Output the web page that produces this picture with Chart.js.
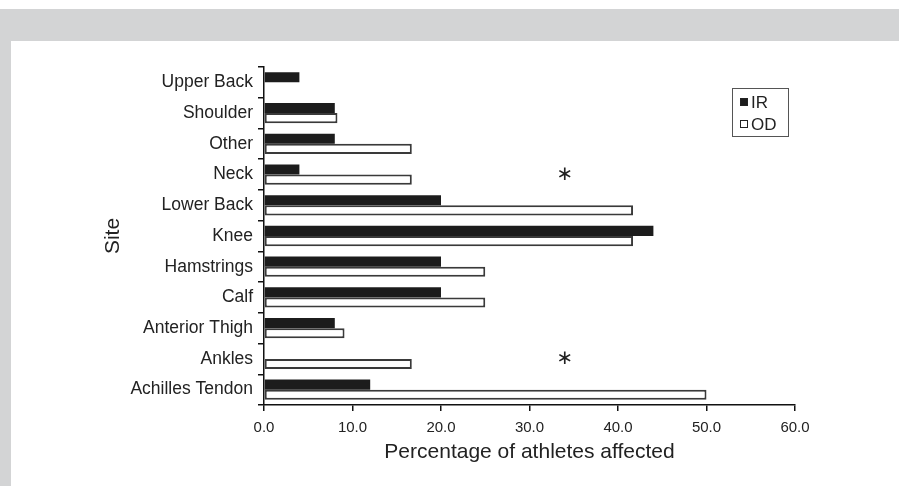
<!DOCTYPE html>
<html>
<head>
<meta charset="utf-8">
<script src="https://cdn.jsdelivr.net/npm/chart.js@4"></script>
<style>
  body { margin: 0; background: #fff; }
  #frame { position: absolute; left: 0; top: 9px; width: 899px; height: 477px; background: #d3d4d5; }
  #panel { position: absolute; left: 11px; top: 32px; width: 888px; height: 445px; background: #fff; }
</style>
</head>
<body>
<div id="frame">
  <div id="panel"><canvas id="injuryChart" width="888" height="445"></canvas></div>
</div>
<script>
const sites = ["Upper Back", "Shoulder", "Other", "Neck", "Lower Back", "Knee",
  "Hamstrings", "Calf", "Anterior Thigh", "Ankles", "Achilles Tendon"];
const irValues = [4.0, 8.0, 8.0, 4.0, 20.0, 44.0, 20.0, 20.0, 8.0, 0, 12.0];
const odValues = [0, 8.3, 16.7, 16.7, 41.7, 41.7, 25.0, 25.0, 9.1, 16.7, 50.0];
const seriesNames = ["IR", "OD"];
const starSites = ["Neck", "Ankles"];
const starValue = 34;

const fontFamily = "'Liberation Sans', Arial, sans-serif";

// legend box drawn inside the plot, like the original figure
const boxLegend = {
  id: "boxLegend",
  afterDraw(chart) {
    const ctx = chart.ctx;
    const x = 721, y = 47, w = 56, h = 48;
    ctx.save();
    ctx.strokeStyle = "#555";
    ctx.lineWidth = 1;
    ctx.strokeRect(x + 0.5, y + 0.5, w, h);
    ctx.font = "17px " + fontFamily;
    ctx.textBaseline = "middle";
    chart.data.datasets.forEach((ds, i) => {
      const cy = y + 14 + i * 22;
      ctx.fillStyle = ds.backgroundColor;
      ctx.fillRect(x + 8, cy - 4, 8, 8);
      ctx.strokeStyle = "#222";
      ctx.strokeRect(x + 8.5, cy - 3.5, 7, 7);
      ctx.fillStyle = "#222";
      ctx.fillText(ds.label, x + 19, cy + 1);
    });
    ctx.restore();
  }
};

// significance markers
const stars = {
  id: "stars",
  afterDatasetsDraw(chart) {
    const ctx = chart.ctx;
    const xs = chart.scales.x, ys = chart.scales.y;
    ctx.save();
    ctx.font = "20px 'DejaVu Sans', sans-serif";
    ctx.fillStyle = "#222";
    ctx.textAlign = "center";
    ctx.textBaseline = "middle";
    starSites.forEach(s => {
      ctx.fillText("\u2217", xs.getPixelForValue(starValue), ys.getPixelForValue(sites.indexOf(s)));
    });
    ctx.restore();
  }
};

new Chart(document.getElementById("injuryChart"), {
  type: "bar",
  data: {
    labels: sites,
    datasets: [
      {
        label: seriesNames[0],
        data: irValues,
        backgroundColor: "#1c1c1c",
        borderColor: "#1c1c1c",
        borderWidth: 0
      },
      {
        label: seriesNames[1],
        data: odValues,
        backgroundColor: "#ffffff",
        borderColor: "#3a3a3a",
        borderWidth: 2,
        borderSkipped: false
      }
    ]
  },
  options: {
    indexAxis: "y",
    responsive: false,
    animation: false,
    categoryPercentage: 0.66,
    barPercentage: 1.0,
    layout: { padding: { left: 86, top: 26, right: 104, bottom: 15 } },
    plugins: {
      legend: { display: false },
      tooltip: { enabled: false }
    },
    scales: {
      x: {
        min: 0,
        max: 60,
        afterFit(scale) { scale.height = 66; },
        border: { color: "#111", width: 1.5 },
        grid: { drawOnChartArea: false, drawTicks: true, tickLength: 6, color: "#111", lineWidth: 1.5 },
        ticks: {
          stepSize: 10,
          padding: 8,
          color: "#222",
          font: { family: fontFamily, size: 15 },
          callback: v => v.toFixed(1)
        },
        title: {
          display: true,
          text: "Percentage of athletes affected",
          color: "#222",
          font: { family: fontFamily, size: 21 },
          padding: { top: 4, bottom: 6 }
        }
      },
      y: {
        afterFit(scale) { scale.width = 167; },
        border: { color: "#111", width: 1.5 },
        grid: { drawOnChartArea: false, drawTicks: true, tickLength: 6, color: "#111", lineWidth: 1.5, offset: true },
        ticks: {
          padding: 5,
          color: "#222",
          font: { family: fontFamily, size: 17.5 }
        },
        title: {
          display: true,
          text: "Site",
          color: "#222",
          font: { family: fontFamily, size: 21 },
          padding: 4
        }
      }
    }
  },
  plugins: [stars, boxLegend]
});
</script>
</body>
</html>
